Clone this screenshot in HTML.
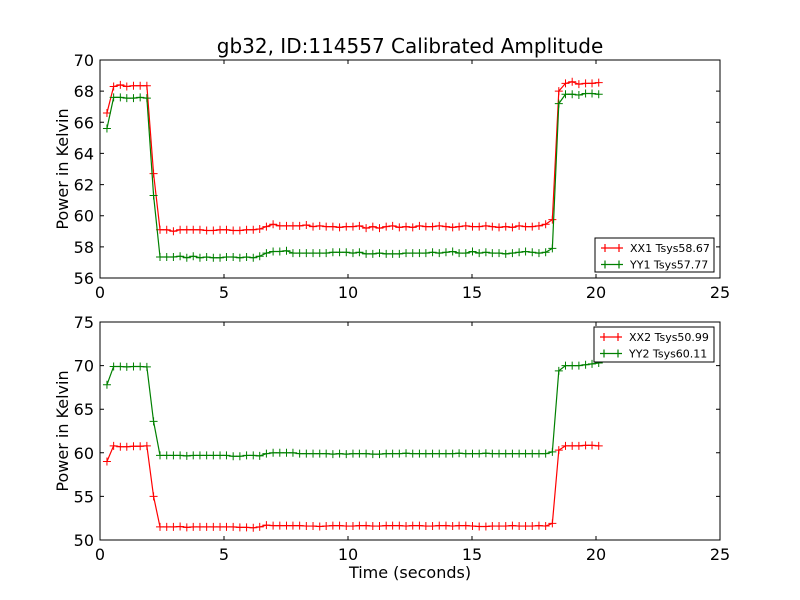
<!DOCTYPE html>
<html><head><meta charset="utf-8"><style>
body{margin:0;background:#fff}
svg{display:block;font-family:"DejaVu Sans","Liberation Sans",sans-serif}
</style></head><body>
<svg id="c" width="800" height="600" xmlns="http://www.w3.org/2000/svg">
<rect width="800" height="600" fill="#fff"/>
<text x="410" y="53" text-anchor="middle" font-size="20">gb32, ID:114557 Calibrated Amplitude</text>
</svg>
<script>
const times=[0.28,0.55,0.82,1.08,1.35,1.62,1.89,2.16,2.42,2.69,2.96,3.23,3.50,3.76,4.03,4.30,4.57,4.84,5.10,5.37,5.64,5.91,6.18,6.44,6.71,6.98,7.25,7.52,7.78,8.05,8.32,8.59,8.86,9.12,9.39,9.66,9.93,10.20,10.46,10.73,11.00,11.27,11.54,11.80,12.07,12.34,12.61,12.88,13.14,13.41,13.68,13.95,14.22,14.48,14.75,15.02,15.29,15.56,15.82,16.09,16.36,16.63,16.90,17.16,17.43,17.70,17.97,18.24,18.50,18.77,19.04,19.31,19.58,19.84,20.11];
const xx1=[66.6,68.3,68.4,68.3,68.35,68.35,68.35,62.7,59.1,59.1,59.0,59.1,59.1,59.1,59.1,59.05,59.05,59.1,59.1,59.05,59.05,59.1,59.1,59.15,59.3,59.45,59.35,59.35,59.35,59.35,59.4,59.3,59.35,59.3,59.3,59.25,59.3,59.3,59.35,59.2,59.3,59.2,59.3,59.35,59.25,59.3,59.25,59.35,59.3,59.3,59.35,59.3,59.25,59.3,59.35,59.3,59.3,59.35,59.3,59.25,59.3,59.25,59.35,59.3,59.3,59.35,59.45,59.75,68.0,68.5,68.6,68.45,68.5,68.5,68.55];
const yy1=[65.6,67.6,67.6,67.55,67.55,67.6,67.55,61.3,57.35,57.35,57.35,57.4,57.3,57.4,57.3,57.35,57.3,57.3,57.35,57.35,57.3,57.35,57.3,57.4,57.6,57.7,57.7,57.75,57.6,57.6,57.6,57.6,57.6,57.6,57.65,57.65,57.65,57.6,57.65,57.55,57.55,57.6,57.55,57.55,57.55,57.6,57.6,57.6,57.6,57.65,57.6,57.65,57.7,57.6,57.6,57.7,57.6,57.65,57.6,57.6,57.55,57.6,57.65,57.7,57.65,57.6,57.65,57.9,67.2,67.8,67.8,67.75,67.85,67.85,67.8];
const xx2=[59.0,60.8,60.7,60.7,60.75,60.75,60.8,55.0,51.5,51.5,51.5,51.55,51.45,51.5,51.5,51.5,51.5,51.5,51.5,51.5,51.45,51.45,51.4,51.5,51.7,51.65,51.65,51.65,51.65,51.65,51.6,51.6,51.55,51.6,51.65,51.65,51.6,51.6,51.65,51.65,51.6,51.6,51.65,51.65,51.65,51.6,51.65,51.65,51.6,51.6,51.65,51.65,51.6,51.65,51.65,51.6,51.55,51.55,51.6,51.6,51.6,51.65,51.6,51.6,51.6,51.65,51.6,51.9,60.3,60.8,60.8,60.8,60.85,60.85,60.8];
const yy2=[67.8,69.9,69.9,69.85,69.9,69.9,69.85,63.6,59.7,59.7,59.7,59.7,59.65,59.7,59.7,59.7,59.7,59.7,59.7,59.6,59.6,59.7,59.7,59.65,59.9,60.0,60.0,60.0,60.0,59.9,59.9,59.9,59.9,59.9,59.85,59.9,59.85,59.9,59.9,59.9,59.85,59.85,59.9,59.9,59.9,59.95,59.9,59.9,59.9,59.9,59.9,59.9,59.9,59.95,59.9,59.9,59.9,59.95,59.9,59.9,59.9,59.9,59.9,59.9,59.9,59.9,59.9,60.1,69.4,70.0,70.0,70.0,70.1,70.2,70.3];
const xTicks=[0,5,10,15,20,25];
const topTicks=[56,58,60,62,64,66,68,70];
const botTicks=[50,55,60,65,70,75];
const legTop=["XX1 Tsys58.67","YY1 Tsys57.77"];
const legBot=["XX2 Tsys50.99","YY2 Tsys60.11"];

const NS="http://www.w3.org/2000/svg";
const svg=document.getElementById('c');
function mk(t,a,p){const e=document.createElementNS(NS,t);for(const k in a)e.setAttribute(k,a[k]);(p||svg).appendChild(e);return e;}
function panel(name,top,bottom,ymin,ymax,yTicks,series,legend,legBox,showXLabel){
  const L=100,R=720;
  const g=mk('g',{});
  
  
  const sx=v=>L+(v-0)/(25-0)*(R-L);
  const sy=v=>bottom-(v-ymin)/(ymax-ymin)*(bottom-top);
  const colors=['#ff0000','#008000'];
  series.forEach((s,si)=>{
    const sg=mk('g',{},g);
    
    
    mk('polyline',{points:times.map((t,i)=>sx(t)+','+sy(s[i])).join(' '),fill:'none',stroke:colors[si],'stroke-width':1.2},sg);
    times.forEach((t,i)=>{const x=sx(t),y=sy(s[i]);
      mk('path',{d:`M${x-4},${y}H${x+4}M${x},${y-4}V${y+4}`,stroke:colors[si],'stroke-width':1},sg);});
  });
  const f=mk('rect',{x:L,y:top,width:R-L,height:bottom-top,fill:'none',stroke:'#000','stroke-width':1},g);
  
  xTicks.forEach(v=>{const x=sx(v);
    mk('path',{d:`M${x},${bottom}v-4M${x},${top}v4`,stroke:'#000'},g);
    const t=mk('text',{x:x,y:bottom+20,'text-anchor':'middle','font-size':16},g);t.textContent=v;
    });
  yTicks.forEach(v=>{const y=sy(v);
    mk('path',{d:`M${L},${y}h4M${R},${y}h-4`,stroke:'#000'},g);
    const t=mk('text',{x:L-6,y:y+6,'text-anchor':'end','font-size':16},g);t.textContent=v;
    });
  const yl=mk('text',{x:0,y:0,transform:`translate(68,${(top+bottom)/2}) rotate(-90)`,'text-anchor':'middle','font-size':16},g);
  yl.textContent='Power in Kelvin';
  
  if(showXLabel){const xl=mk('text',{x:410,y:578,'text-anchor':'middle','font-size':16},g);xl.textContent='Time (seconds)';
    }
  const lg=mk('g',{},g);
  
  mk('rect',{x:legBox[0],y:legBox[1],width:legBox[2],height:legBox[3],fill:'#fff',stroke:'#000'},lg);
  legend.forEach((s,i)=>{const y=legBox[1]+10+i*16.5,x0=legBox[0]+6;
    const e=mk('g',{},lg);
    
    mk('path',{d:`M${x0},${y}h22M${x0+4},${y-4}v8M${x0+18},${y-4}v8`,stroke:colors[i],'stroke-width':1.2},e);
    const t=mk('text',{x:x0+29,y:y+4,'font-size':11},e);t.textContent=s;});
}
panel('top-panel',60,278,56,70,topTicks,[xx1,yy1],legTop,[595,238,119,34],false);
panel('bottom-panel',322,540,50,75,botTicks,[xx2,yy2],legBot,[594,327,120,35],true);
</script>
</body></html>
